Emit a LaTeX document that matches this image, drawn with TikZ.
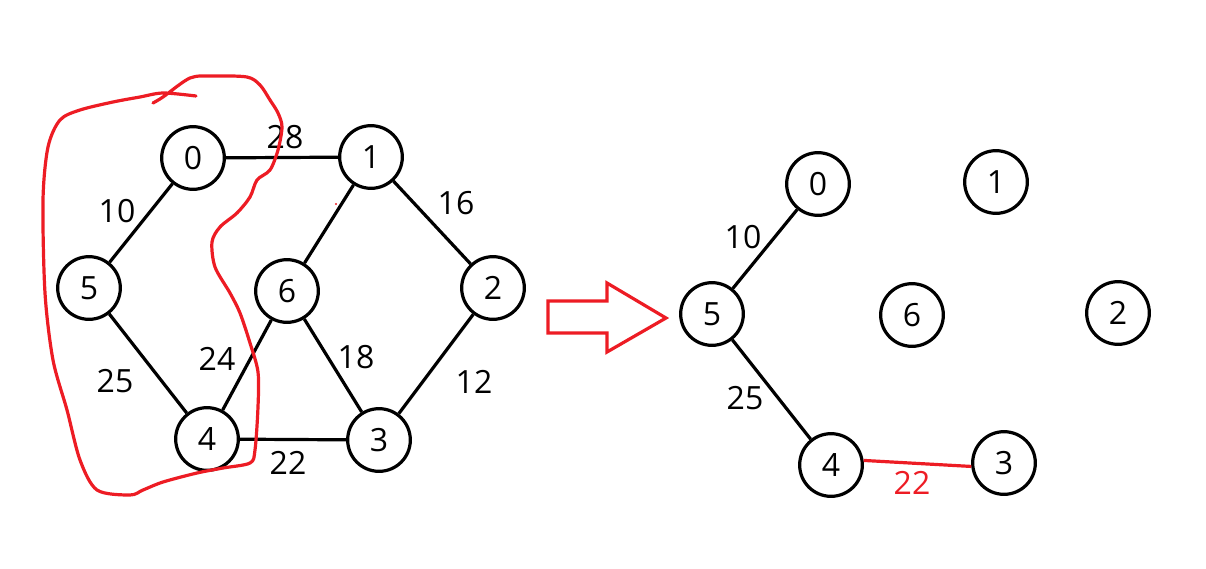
\documentclass[tikz,border=0pt]{standalone}
\usepackage{fontspec}
\setmainfont{Open Sans}
\definecolor{paintred}{HTML}{ED1C24}
\begin{document}
\begin{tikzpicture}[x=0.75pt,y=-0.75pt,
  vtx/.style={circle,draw=black,line width=2.4pt,minimum size=47pt,inner sep=0pt,font=\fontsize{24}{28}\selectfont},
  edge/.style={line width=2.4pt,black},
  wlab/.style={font=\fontsize{24}{28}\selectfont,inner sep=0pt},
  redline/.style={line width=2.4pt,paintred}]
\useasboundingbox (0,0) rectangle (1206,568);
% left graph
\node[vtx] (l0) at (193,158) {0};
\node[vtx] (l1) at (371,157) {1};
\node[vtx] (l5) at (89,288) {5};
\node[vtx] (l6) at (287,291) {6};
\node[vtx] (l2) at (493,288) {2};
\node[vtx] (l4) at (207,439) {4};
\node[vtx] (l3) at (379,440) {3};
\draw[edge] (l0) -- (l1);
\draw[edge] (l0) -- (l5);
\draw[edge] (l1) -- (l6);
\draw[edge] (l1) -- (l2);
\draw[edge] (l5) -- (l4);
\draw[edge] (l6) -- (l4);
\draw[edge] (l6) -- (l3);
\draw[edge] (l2) -- (l3);
\draw[edge] (l4) -- (l3);
\node[wlab] (w01) at (285,137) {28};
\node[wlab] (w05) at (117,211) {10};
\node[wlab] (w12) at (456,203) {16};
\node[wlab] (w64) at (217,359) {24};
\node[wlab] (w63) at (356,357) {18};
\node[wlab] (w54) at (115,381) {25};
\node[wlab] (w23) at (474,382) {12};
\node[wlab] (w43) at (288,463) {22};
% red freehand loop
\draw[redline,line join=round,line cap=round] plot[smooth,tension=0.5] coordinates {
  (153,103) (163,97) (190,78) (213,76) (247,77) (260,85) (270,100) (278,113)
  (282,127) (278,150) (270,170) (257,180) (250,197) (237,213) (220,227)
  (212,242) (215,267) (230,293) (240,313) (250,343) (258,372) (258,407)
  (255,450) (250,463) (223,468) (197,473) (163,482) (143,490) (130,495)
  (97,490) (80,460) (67,410) (53,360) (45,293) (43,200) (48,147) (60,120)
  (80,110) (113,102) (140,97) (163,93) (196,96)};
\fill[paintred] (336,204) circle (1.2);
% hollow arrow
\draw[paintred,line width=2.4pt,line join=miter] (548,301) -- (607,301) -- (607,283) -- (666,318) -- (607,352) -- (607,333) -- (548,333) -- cycle;
% right graph
\node[vtx] (r0) at (818,184) {0};
\node[vtx] (r1) at (996,182) {1};
\node[vtx] (r5) at (712,314) {5};
\node[vtx] (r6) at (912,315) {6};
\node[vtx] (r2) at (1118,313) {2};
\node[vtx] (r4) at (831,465) {4};
\node[vtx] (r3) at (1004,463) {3};
\draw[edge] (r0) -- (r5);
\draw[edge] (r5) -- (r4);
\draw[redline] (r4.8) -- (r3.186);
\node[wlab] (rw05) at (743,237) {10};
\node[wlab] (rw54) at (745,398) {25};
\node[wlab,text=paintred] (rw43) at (912,483) {22};
\end{tikzpicture}
\end{document}
